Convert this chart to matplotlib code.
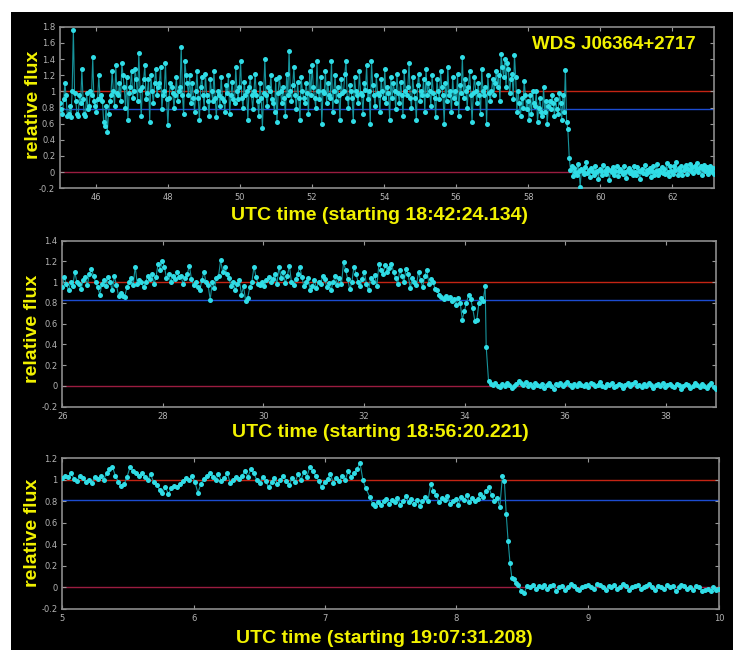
import numpy as np
import matplotlib
matplotlib.use("Agg")
import matplotlib.pyplot as plt
from matplotlib.patches import Rectangle
from matplotlib.ticker import MultipleLocator, FuncFormatter

# ---- panel 1 : WDS J06364+2717, start 18:42:24.134 ----
p1_t_pre = (45.0, 59.10)
p1_pre = [85, 78, 72, 90, 110, 95, 70, 72, 82, 68, 100, 176, 98, 88, 72, 70, 95, 85, 128, 90,
          72, 70, 98, 78, 82, 100, 95, 142, 88, 82, 75, 90, 120, 92, 95, 88, 62, 57, 82, 50,
          72, 88, 95, 125, 100, 82, 132, 98, 95, 110, 88, 135, 120, 105, 80, 118, 65, 98, 105, 125,
          92, 100, 128, 115, 88, 148, 102, 70, 105, 115, 132, 90, 98, 115, 62, 120, 100, 85, 110, 128,
          95, 105, 110, 130, 78, 95, 100, 135, 90, 58, 92, 110, 105, 98, 80, 95, 118, 88, 100, 105,
          155, 95, 72, 138, 120, 110, 95, 120, 85, 110, 92, 75, 100, 125, 92, 65, 105, 118, 95, 80,
          122, 95, 88, 70, 115, 100, 88, 125, 92, 68, 100, 95, 82, 118, 92, 88, 75, 108, 98, 120,
          72, 95, 112, 90, 85, 130, 100, 90, 105, 137, 92, 80, 112, 95, 100, 65, 105, 118, 95, 78,
          100, 122, 95, 88, 70, 110, 92, 55, 98, 140, 95, 82, 105, 100, 120, 90, 85, 75, 115, 62,
          98, 118, 100, 85, 105, 92, 70, 122, 95, 150, 100, 88, 108, 130, 95, 78, 112, 92, 65, 118,
          100, 92, 85, 110, 98, 72, 125, 95, 133, 105, 92, 80, 137, 100, 90, 118, 60, 100, 98, 125,
          85, 110, 95, 92, 138, 75, 100, 120, 88, 105, 95, 65, 115, 98, 100, 122, 138, 92, 80, 108,
          100, 92, 63, 118, 100, 95, 85, 125, 98, 95, 72, 110, 102, 132, 90, 100, 60, 137, 108, 95,
          82, 120, 98, 95, 75, 115, 100, 92, 128, 85, 105, 98, 65, 118, 92, 110, 100, 78, 122, 98,
          85, 112, 95, 70, 125, 100, 95, 105, 135, 92, 80, 118, 100, 92, 65, 108, 122, 88, 100, 95,
          115, 75, 128, 95, 110, 100, 82, 120, 98, 92, 68, 115, 100, 90, 125, 105, 95, 60, 110, 88,
          130, 95, 100, 75, 118, 92, 100, 85, 122, 70, 108, 98, 142, 92, 115, 100, 80, 105, 125, 95,
          62, 98, 118, 100, 85, 110, 95, 72, 128, 100, 95, 105, 60, 120, 98, 88, 100, 115, 95, 110,
          125, 105, 120, 88, 146, 130, 118, 140, 105, 135, 128, 98, 115, 122, 90, 145, 118, 75, 100, 85,
          70, 92, 80, 113, 95, 78, 88, 65, 95, 72, 100, 85, 82, 100, 62, 80, 92, 75, 70, 105,
          75, 88, 60, 82, 88, 78, 95, 85, 70, 90, 78, 72, 98, 85, 65, 95, 75, 127, 62, 54]
p1_t_post = (59.14, 63.16)
p1_post = [18, 3, 8, -5, 5, 0, -3, 10, 2, -18, 4, 2, -2, 6, 12, -1, 3, -6, 5, 1,
           -3, 7, 0, 2, -8, 4, 2, -4, 9, 1, -2, 5, 3, -10, 3, 0, 6, -3, 2, 8,
           -5, 1, 4, 0, -2, 7, 0, -7, 3, 5, -1, 2, -4, 8, 0, -3, 6, 1, -9, 2,
           4, -1, 9, -2, 3, 0, 5, -6, 2, 7, -3, 1, 10, -4, 3, 0, 6, -1, 4, -2,
           11, 0, -5, 7, 2, -2, 8, 3, 12, -3, 5, 1, 7, -4, 3, 6, 9, -2, 4, 10,
           2, 6, -1, 8, 3, 11, 0, 5, 7, -3, 4, 9, 1, 6, -2, 3, 8, 0, 5, -2]
p1_blue = 0.78

# ---- panel 2 : start 18:56:20.221 ----
p2_t_pre = (26.0, 34.41)
p2_pre = [95, 105, 98, 92, 100, 96, 110, 100, 98, 93, 102, 105, 97, 108, 113, 106, 100, 95, 88, 98,
          102, 96, 105, 100, 92, 106, 97, 87, 90, 87, 86, 95, 100, 104, 97, 115, 98, 102, 100, 95,
          100, 106, 103, 108, 98, 105, 118, 112, 120, 115, 104, 108, 100, 106, 103, 110, 105, 106, 98, 104,
          108, 116, 103, 97, 100, 95, 92, 102, 110, 100, 97, 83, 100, 94, 104, 106, 121, 110, 115, 108,
          104, 96, 100, 92, 98, 102, 88, 96, 82, 85, 95, 100, 115, 105, 98, 97, 100, 96, 102, 105,
          100, 103, 108, 98, 115, 104, 110, 99, 106, 116, 100, 97, 103, 108, 115, 105, 96, 100, 104, 92,
          96, 102, 94, 100, 98, 106, 103, 95, 99, 92, 100, 106, 97, 104, 98, 119, 112, 103, 93, 100,
          115, 108, 100, 96, 103, 110, 98, 92, 104, 100, 107, 96, 118, 112, 108, 117, 110, 114, 118, 110,
          104, 98, 112, 106, 100, 113, 108, 94, 104, 100, 97, 110, 102, 95, 106, 112, 98, 103, 100, 93,
          92, 88, 86, 84, 87, 85, 86, 82, 84, 78, 85, 80, 64, 72, 80, 88, 84, 75, 63, 64, 80, 85, 82, 96]
p2_t_post = (34.43, 39.0)
p2_post = [38, 5, 2, 1, 3, 0, -1, 2, 0, 3, 1, -2, 0, 2, 5, 3, 1, 4, 0, 2,
           -1, 3, 1, 0, 2, -2, 1, 3, 0, -3, 2, 1, 3, 0, 2, 4, 1, -1, 2, 0,
           3, 1, 0, 2, -1, 3, 2, 0, 1, 4, 0, -1, 2, 1, 3, -1, 0, 2, 1, -2,
           1, 3, 0, 2, 4, 0, 1, -1, 2, 0, 3, 1, -2, 1, 2, 0, 3, -1, 1, 2,
           0, -1, 2, 1, -3, 0, 2, 1, -2, 0, 3, 1, -1, 2, 0, -2, 1, 3, -1, -3]
p2_blue = 0.83

# ---- panel 3 : start 19:07:31.208 ----
p3_t_pre = (5.0, 7.31)
p3_pre = [102, 104, 103, 106, 101, 99, 104, 102, 98, 100,
          97, 103, 101, 104, 100, 106, 110, 112, 104, 98,
          94, 96, 103, 112, 108, 106, 104, 106, 103, 100,
          105, 98, 95, 91, 88, 93, 87, 92, 94, 93,
          96, 99, 102, 100, 104, 98, 88, 96, 101, 104,
          106, 103, 100, 105, 99, 102, 106, 97, 100, 103,
          101, 104, 108, 103, 110, 106, 100, 97, 103, 99,
          93, 98, 102, 96, 100, 104, 99, 95, 102, 98,
          105, 100, 107, 103, 112, 108, 104, 99, 93, 98,
          101, 105, 97, 102, 99, 104, 100, 108, 103, 106,
          110, 116, 100, 92]
p3_t_mid = (7.34, 8.33)
p3_mid = [84, 78, 76, 79, 77, 80, 82, 78, 81, 79,
          83, 77, 80, 85, 79, 82, 78, 81, 76, 80,
          84, 80, 96, 90, 86, 79, 83, 81, 85, 78,
          80, 82, 77, 84, 81, 86, 79, 83, 80, 82,
          87, 84, 90, 93, 86, 80, 83, 75]
p3_t_drop = (8.35, 8.45)
p3_drop = [104, 99, 68, 43, 23, 9, 8, 4]
p3_t_post = (8.47, 10.0)
p3_post = [2, -3, -5, 1, 0, 2, -1, 1, 0, 2,
           -1, 1, 2, -3, 0, 1, -2, 0, 3, 1,
           -1, -2, 0, 1, 2, 0, -1, 3, 2, 0,
           -2, 1, 0, 2, -1, 0, 3, 1, -2, 0,
           1, 2, -1, 0, 1, 3, 0, -2, 1, 0,
           -1, 2, 0, 1, -3, 0, 2, 1, -1, 0,
           -2, 1, 0, -3, -2, -1, -3, 0, -2, -1]
p3_blue = 0.81

labels = ["UTC time (starting 18:42:24.134)",
          "UTC time (starting 18:56:20.221)",
          "UTC time (starting 19:07:31.208)"]
star = "WDS J06364+2717"


def series(*segs):
    ts, fs = [], []
    for (t0, t1), vals in segs:
        ts.append(np.linspace(t0, t1, len(vals)))
        fs.append(np.array(vals) / 100.0)
    return np.concatenate(ts), np.concatenate(fs)


panels = [
    (series((p1_t_pre, p1_pre), (p1_t_post, p1_post)), p1_blue, (45, 63.16), (-0.2, 1.8), 2),
    (series((p2_t_pre, p2_pre), (p2_t_post, p2_post)), p2_blue, (26, 39), (-0.2, 1.4), 2),
    (series((p3_t_pre, p3_pre), (p3_t_mid, p3_mid), (p3_t_drop, p3_drop), (p3_t_post, p3_post)),
     p3_blue, (5, 10), (-0.2, 1.2), 1),
]

# axes rectangles in figure fractions (733x650 px)
rects = [[0.0819, 0.7103, 0.8922, 0.2486],
         [0.0850, 0.3743, 0.8918, 0.2554],
         [0.0850, 0.0631, 0.8963, 0.2318]]
xlab_pos = [(0.518, 0.668), (0.519, 0.334), (0.525, 0.018)]
ylab_pos = [(0.046, 0.838), (0.044, 0.494), (0.045, 0.181)]

yellow = "#f2f200"
font = ["Liberation Sans", "DejaVu Sans"]

fig = plt.figure(figsize=(7.33, 6.5), dpi=100, facecolor="white")
fig.patches.append(Rectangle((11 / 733, 0), 1 - 11 / 733, 638 / 650,
                             transform=fig.transFigure, facecolor="black",
                             edgecolor="none", zorder=-10))

for i, ((t, f), blue, xl, yl, xstep) in enumerate(panels):
    ax = fig.add_axes(rects[i])
    ax.set_facecolor("black")
    ax.axhline(1.0, color="#c42414", lw=1.0, zorder=1)
    ax.axhline(blue, color="#1c4cd0", lw=1.0, zorder=1)
    ax.axhline(0.0, color="#9a1c40", lw=1.0, zorder=1)
    ax.plot(t, f, "-", color="#17939b", lw=0.8, zorder=2)
    ax.plot(t, f, "o", color="#30dde6", ms=3.6, mew=0, zorder=3)
    ax.set_xlim(*xl)
    ax.set_ylim(*yl)
    ax.xaxis.set_major_locator(MultipleLocator(xstep))
    ax.yaxis.set_major_locator(MultipleLocator(0.2))
    ax.yaxis.set_major_formatter(FuncFormatter(lambda v, p: f"{v:g}" if abs(v) > 1e-9 else "0"))
    ax.xaxis.set_major_formatter(FuncFormatter(lambda v, p: f"{v:g}"))
    ax.tick_params(direction="in", length=3, width=0.8, colors="#9a9a9a",
                   labelsize=6, labelcolor="#b4b4b4", top=True, right=True)
    for s in ax.spines.values():
        s.set_color("#8c8c8c")
        s.set_linewidth(1.2)
    fig.text(*xlab_pos[i], labels[i], color=yellow, fontsize=14, fontweight="bold",
             family=font, ha="center", va="center")
    fig.text(*ylab_pos[i], "relative flux", color=yellow, fontsize=14, fontweight="bold",
             family=font, ha="center", va="center", rotation=90)
    if i == 0:
        fig.text(0.838, 0.931, star, color=yellow, fontsize=13.5, fontweight="bold",
                 family=font, ha="center", va="center")

fig.savefig("out.png", dpi=100, facecolor="white")
